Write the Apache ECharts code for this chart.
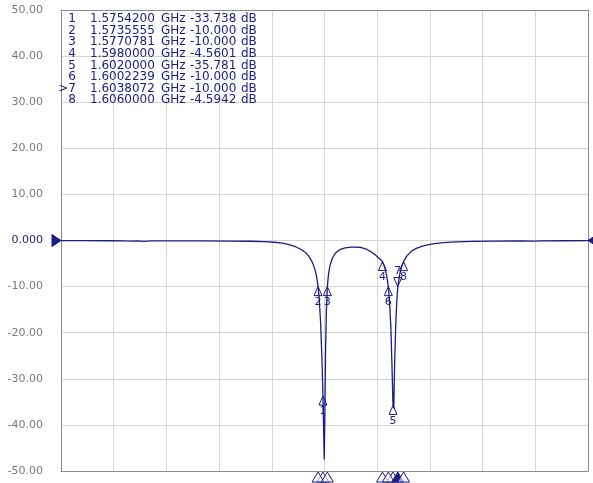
<!DOCTYPE html>
<html><head><meta charset="utf-8">
<script src="https://cdn.jsdelivr.net/npm/echarts@6.0.0/dist/echarts.min.js"></script>
<style>html,body{margin:0;padding:0;background:#fff}#c{width:593px;height:483px}</style>
</head><body><div id="c"></div>
<script>
// ---- data ----
const xMinGHz = 1.476;
const xMaxGHz = 1.676;
const yTicks = [-50, -40, -30, -20, -10, 0, 10, 20, 30, 40, 50];

const traceFreqGHz = [
  1.4760, 1.4850, 1.4950, 1.5000, 1.5030, 1.5050, 1.5075, 1.5100, 1.5200, 1.5300,
  1.5400, 1.5480, 1.5530, 1.5570, 1.5600, 1.5625, 1.5650, 1.5670, 1.5688, 1.5700,
  1.5710, 1.5718, 1.5725, 1.5731, 1.57356, 1.5740, 1.5745, 1.5750, 1.57542, 1.5757,
  1.5759, 1.5761, 1.5764, 1.5767, 1.57708, 1.5775, 1.5781, 1.5790, 1.5802, 1.5818,
  1.5838, 1.5860, 1.5880, 1.5900, 1.5918, 1.5935, 1.5952, 1.5968, 1.5980, 1.5989,
  1.5996, 1.60022, 1.6007, 1.6012, 1.6016, 1.6020, 1.6023, 1.6026, 1.6030, 1.6034,
  1.60381, 1.6045, 1.6052, 1.6060, 1.6072, 1.6088, 1.6108, 1.6135, 1.6170, 1.6210,
  1.6260, 1.6320, 1.6400, 1.6500, 1.6560, 1.6580, 1.6680, 1.6760
];
const traceDb = [
  -0.02, -0.03, -0.05, -0.06, -0.15, -0.08, -0.20, -0.09, -0.08, -0.09,
  -0.12, -0.16, -0.24, -0.38, -0.58, -0.90, -1.35, -1.90, -2.60, -3.40,
  -4.30, -5.30, -6.60, -8.10, -10.00, -12.80, -17.50, -25.00, -33.74, -42.00,
  -47.50, -40.00, -24.00, -15.50, -10.00, -7.40, -5.40, -3.80, -2.70, -2.00,
  -1.62, -1.45, -1.42, -1.52, -1.85, -2.40, -3.10, -3.90, -4.56, -5.90,
  -7.60, -10.00, -13.50, -19.00, -27.00, -35.78, -36.40, -27.00, -19.00, -13.50,
  -10.00, -7.50, -5.80, -4.59, -3.40, -2.40, -1.70, -1.15, -0.75, -0.48,
  -0.30, -0.18, -0.12, -0.08, -0.14, -0.07, -0.05, -0.04
];

const markerIds = ['1', '2', '3', '4', '5', '6', '7', '8'];
const markerFreqGHz = [1.5754200, 1.5735555, 1.5770781, 1.5980000, 1.6020000, 1.6002239, 1.6038072, 1.6060000];
const markerDb = [-33.738, -10.000, -10.000, -4.5601, -35.781, -10.000, -10.000, -4.5942];
const activeMarker = '7';
const refLevelDb = 0;

// ---- styling ----
const NAVY = '#1c1c84';
const GRAY_TXT = '#7a7a7a';

const traceData = traceFreqGHz.map((f, i) => [f, traceDb[i]]);
const markerData = markerFreqGHz.map((f, i) => [f, markerDb[i]]);
const bottomData = markerFreqGHz.map(f => [f, yTicks[0]]);
const refData = [[xMinGHz, refLevelDb, 1], [xMaxGHz, refLevelDb, -1]];

// marker table as text
const tableFont = '12px "DejaVu Sans"';
const rowY0 = 19, rowDy = 11.6;
const graphics = [];
markerIds.forEach((id, i) => {
  const y = rowY0 + i * rowDy;
  const cols = [
    { t: (id === activeMarker ? '>' : '') + id, x: 76, a: 'right' },
    { t: markerFreqGHz[i].toFixed(7), x: 90, a: 'left' },
    { t: 'GHz', x: 161, a: 'left' },
    { t: markerDb[i].toPrecision(5), x: 190, a: 'left' },
    { t: 'dB', x: 241, a: 'left' }
  ];
  cols.forEach(c => graphics.push({
    type: 'text', z: 10,
    style: { text: c.t, x: c.x, y: y, font: tableFont, fill: NAVY, textAlign: c.a, textVerticalAlign: 'middle' }
  }));
});

const chart = echarts.init(document.getElementById('c'), null, { renderer: 'canvas' });
chart.setOption({
  animation: false,
  backgroundColor: '#fff',
  grid: { left: 61, right: 5, top: 10, bottom: 12, containLabel: false },
  xAxis: [
    { type: 'value', min: xMinGHz, max: xMaxGHz, position: 'bottom',
      axisLine: { show: true, onZero: false, lineStyle: { color: '#8a8a8a', width: 1 } },
      axisTick: { show: false }, axisLabel: { show: false }, splitLine: { show: false } },
    { type: 'value', min: 0, max: 10, interval: 1, position: 'top',
      axisLine: { show: true, onZero: false, lineStyle: { color: '#8a8a8a', width: 1 } },
      axisTick: { show: false }, axisLabel: { show: false },
      splitLine: { show: true, lineStyle: { color: '#d6d6d6', width: 1 } } }
  ],
  yAxis: [
    { type: 'value', min: yTicks[0], max: yTicks[yTicks.length - 1], interval: 10, position: 'left',
      axisLine: { show: true, onZero: false, lineStyle: { color: '#8a8a8a', width: 1 } },
      axisTick: { show: false },
      axisLabel: { show: true, margin: 18, color: GRAY_TXT, fontFamily: 'DejaVu Sans', fontSize: 11,
        formatter: v => (Number(v) === 0 ? '{z|0.000}' : '{g|' + Number(v).toFixed(2) + '}'),
        rich: {
          z: { color: NAVY, fontFamily: 'DejaVu Sans', fontSize: 11 },
          g: { color: GRAY_TXT, fontFamily: 'DejaVu Sans', fontSize: 11 }
        } },
      splitLine: { show: true, lineStyle: { color: '#d6d6d6', width: 1 } } },
    { type: 'value', min: yTicks[0], max: yTicks[yTicks.length - 1], position: 'right',
      axisLine: { show: true, onZero: false, lineStyle: { color: '#8a8a8a', width: 1 } },
      axisTick: { show: false }, axisLabel: { show: false }, splitLine: { show: false } }
  ],
  graphic: graphics,
  series: [
    { type: 'line', xAxisIndex: 0, yAxisIndex: 0, data: traceData, showSymbol: false, symbol: 'none',
      lineStyle: { color: NAVY, width: 1.3 }, z: 3 },
    { type: 'custom', xAxisIndex: 0, yAxisIndex: 0, data: markerData, clip: false, z: 4,
      renderItem: (params, api) => {
        const p = api.coord([api.value(0), api.value(1)]);
        const id = markerIds[params.dataIndex];
        const active = id === activeMarker;
        const d = active ? -1 : 1;
        return { type: 'group', children: [
          { type: 'polygon', shape: { points: [[p[0], p[1]], [p[0] - 4, p[1] + 9 * d], [p[0] + 4, p[1] + 9 * d]] },
            style: { fill: 'rgba(255,255,255,0)', stroke: NAVY, lineWidth: 1 } },
          { type: 'text', style: { text: id, x: p[0], y: p[1] + 10 * d, font: '11px "DejaVu Sans"', fill: NAVY,
            textAlign: 'center', textVerticalAlign: active ? 'bottom' : 'top' } }
        ] };
      } },
    { type: 'custom', xAxisIndex: 0, yAxisIndex: 0, data: bottomData, clip: false, z: 5,
      renderItem: (params, api) => {
        const p = api.coord([api.value(0), api.value(1)]);
        const active = markerIds[params.dataIndex] === activeMarker;
        return { type: 'polygon', shape: { points: [[p[0], p[1] + 1], [p[0] - 6, p[1] + 11], [p[0] + 6, p[1] + 11]] },
          style: { fill: active ? NAVY : 'rgba(255,255,255,0.6)', stroke: NAVY, lineWidth: 1 } };
      } },
    { type: 'custom', xAxisIndex: 0, yAxisIndex: 0, data: refData, clip: false, z: 5,
      renderItem: (params, api) => {
        const p = api.coord([api.value(0), api.value(1)]);
        const s = api.value(2);
        return { type: 'polygon', shape: { points: [[p[0], p[1]], [p[0] - 9 * s, p[1] - 6], [p[0] - 9 * s, p[1] + 6]] },
          style: { fill: NAVY, stroke: NAVY, lineWidth: 1 } };
      } }
  ]
});
</script>
</body></html>
